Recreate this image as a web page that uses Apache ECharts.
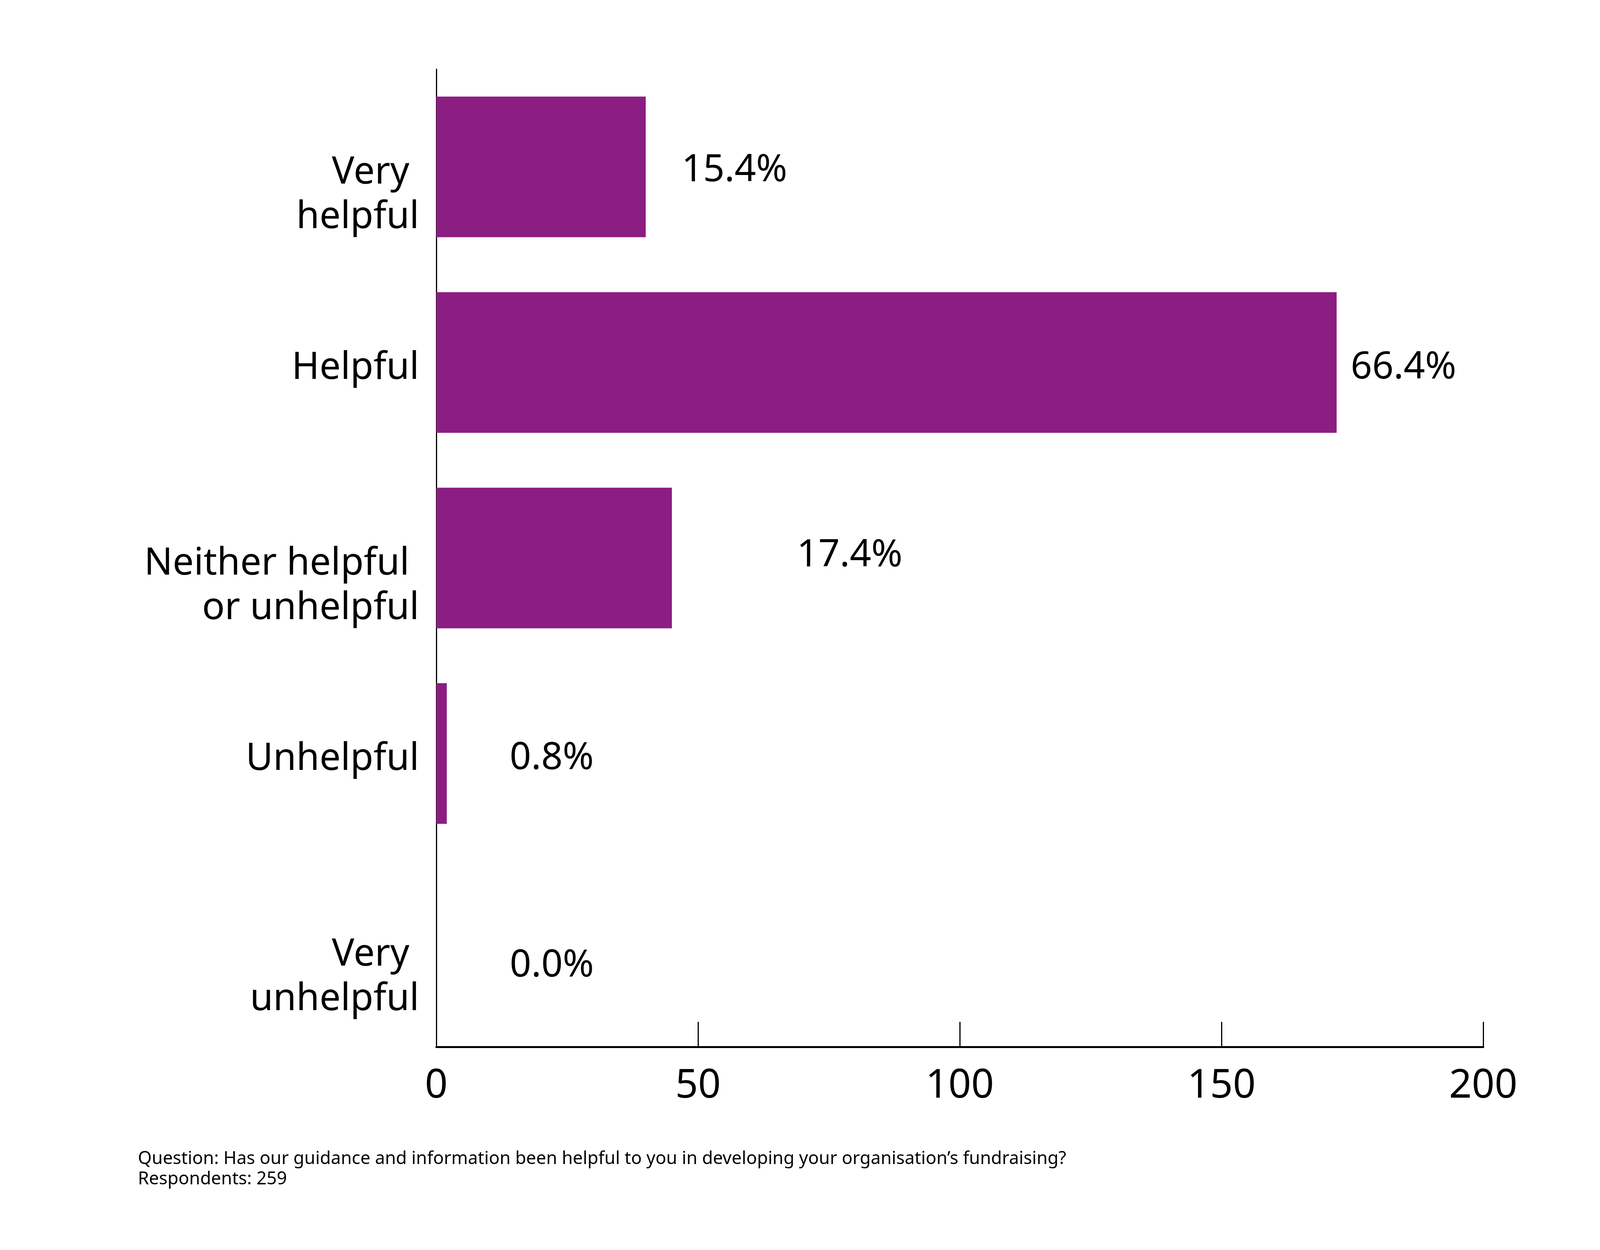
<!DOCTYPE html>
<html>
<head>
<meta charset="utf-8">
<script src="https://cdn.jsdelivr.net/npm/echarts@6/dist/echarts.min.js"></script>
<style>
html,body{margin:0;padding:0;background:#fff;}
#chart{width:4267px;height:3200px;}
</style>
</head>
<body>
<div id="chart"></div>
<script>
// ---- data ----
var categories = ['Very \nhelpful', 'Helpful', 'Neither helpful \nor unhelpful', 'Unhelpful', 'Very \nunhelpful'];
var counts = [40, 172, 45, 2, 0];
var percentLabels = ['15.4%', '66.4%', '17.4%', '0.8%', '0.0%'];
var xTicks = [0, 50, 100, 150, 200];
var footnote = ['Question: Has our guidance and information been helpful to you in developing your organisation\u2019s fundraising?', 'Respondents: 259'];

// ---- layout / style (not data) ----
var labelDistance = [92, 36, 320, 161, 188];
var labelDy = [9, 14, -6, 13, 43];
var FONT = 'Noto Sans';
var BAR = '#8c1d82';
var LINE_H = 114;
var SHIFT = 30;

var chart = echarts.init(document.getElementById('chart'));
var seriesData = counts.map(function (v, i) {
  return {
    value: v,
    label: { distance: labelDistance[i], offset: [0, labelDy[i]] }
  };
});

chart.setOption({
  backgroundColor: '#ffffff',
  animation: false,
  title: {
    text: footnote.join('\n'),
    left: 348,
    top: 2936,
    textStyle: { fontFamily: FONT, fontSize: 45.5, fontWeight: 'normal', color: '#000', lineHeight: 52 }
  },
  grid: { left: 1117, right: 470, top: 177, bottom: 520, containLabel: false },
  xAxis: {
    type: 'value',
    min: xTicks[0],
    max: xTicks[xTicks.length - 1],
    interval: xTicks[1] - xTicks[0],
    axisLine: { show: true, lineStyle: { color: '#000', width: 5 } },
    axisTick: { show: true, inside: true, length: 64, lineStyle: { color: '#000', width: 3 } },
    splitLine: { show: false },
    axisLabel: { margin: 50, fontFamily: FONT, fontSize: 102, color: '#000' }
  },
  yAxis: {
    type: 'category',
    inverse: true,
    data: categories,
    axisLine: { show: true, lineStyle: { color: '#000', width: 3 } },
    axisTick: { show: false },
    axisLabel: {
      margin: 44,
      color: '#000',
      align: 'right',
      verticalAlign: 'middle',
      formatter: function (name) {
        var lines = name.split('\n');
        var spacer = (lines.length - 1) * LINE_H + SHIFT;
        var out = ['{s' + (lines.length > 1 ? '2' : '1') + '| }'];
        lines.forEach(function (l) { out.push('{t|' + l + '}'); });
        return out.join('\n');
      },
      rich: {
        t: { fontFamily: FONT, fontSize: 96, color: '#000', lineHeight: LINE_H, align: 'right' },
        s1: { fontSize: 8, lineHeight: SHIFT },
        s2: { fontSize: 8, lineHeight: LINE_H + SHIFT }
      }
    }
  },
  series: [{
    type: 'bar',
    data: seriesData,
    barWidth: 360,
    itemStyle: { color: BAR },
    label: {
      show: true,
      position: 'right',
      fontFamily: FONT,
      fontSize: 96,
      color: '#000',
      formatter: function (p) { return percentLabels[p.dataIndex]; }
    }
  }]
});
</script>
</body>
</html>
